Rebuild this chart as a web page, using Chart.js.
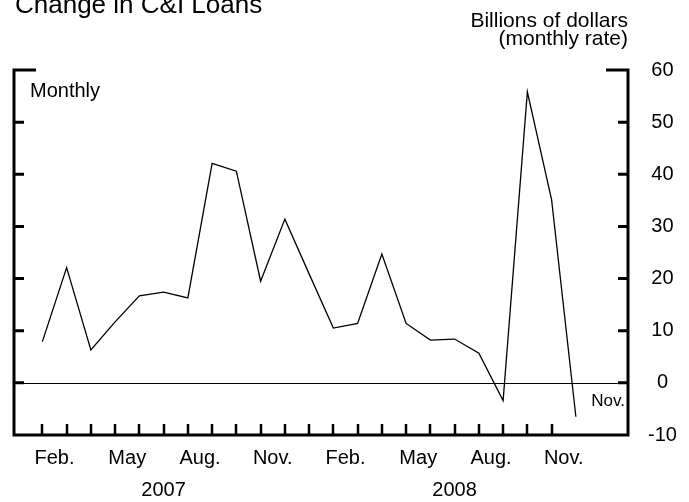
<!DOCTYPE html>
<html>
<head>
<meta charset="utf-8">
<script src="https://cdn.jsdelivr.net/npm/chart.js@4/dist/chart.umd.min.js"></script>
<style>
  html, body { margin: 0; padding: 0; background: #fff; }
  #wrap { width: 689px; height: 502px; }
</style>
</head>
<body>
<div id="wrap"><canvas id="c" width="689" height="502"></canvas></div>
<script>
// Monthly change in commercial & industrial loans, billions of dollars (monthly rate)
const months = [
  'Jan 2007', 'Feb 2007', 'Mar 2007', 'Apr 2007', 'May 2007', 'Jun 2007',
  'Jul 2007', 'Aug 2007', 'Sep 2007', 'Oct 2007', 'Nov 2007', 'Dec 2007',
  'Jan 2008', 'Feb 2008', 'Mar 2008', 'Apr 2008', 'May 2008', 'Jun 2008',
  'Jul 2008', 'Aug 2008', 'Sep 2008', 'Oct 2008', 'Nov 2008'
];
const changeCI = [
  7.9, 22.1, 6.3, 11.7, 16.7, 17.4, 16.3, 42.1, 40.6, 19.5, 31.4, 20.9,
  10.5, 11.4, 24.7, 11.4, 8.2, 8.4, 5.7, -3.4, 55.8, 35.1, -6.5
];

// Month labels sit between tick marks; year labels under the month row
const monthLabels = ['Feb.', 'May', 'Aug.', 'Nov.', 'Feb.', 'May', 'Aug.', 'Nov.'];
const monthLabelPos = [0.5, 3.5, 6.5, 9.5, 12.5, 15.5, 18.5, 21.5];
const yearLabels = ['2007', '2008'];
const yearLabelPos = [5, 17];
const yTickValues = [-10, 0, 10, 20, 30, 40, 50, 60];
const monthTickCount = 22; // tick marks Jan 2007 .. Oct 2008

const FONT = '"Liberation Sans", Arial, Helvetica, sans-serif';

const points = changeCI.map((v, i) => ({ x: i, y: v }));

// Frame, inward ticks, zero line and free-standing text
const framePlugin = {
  id: 'frame',
  beforeDatasetsDraw(chart) {
    const { ctx, chartArea: a, scales: { x, y } } = chart;
    ctx.save();
    ctx.strokeStyle = '#000';
    ctx.lineWidth = 1;
    const y0 = Math.round(y.getPixelForValue(0)) + 0.5;
    ctx.beginPath();
    ctx.moveTo(a.left, y0);
    ctx.lineTo(a.right, y0);
    ctx.stroke();
    ctx.restore();
  },
  afterDraw(chart) {
    const { ctx, chartArea: a, scales: { x, y } } = chart;
    const L = a.left, R = a.right, T = a.top, B = a.bottom;
    ctx.save();
    ctx.strokeStyle = '#000';
    ctx.lineCap = 'butt';
    ctx.lineWidth = 3;
    ctx.beginPath();
    // left and right spines with short top caps
    ctx.moveTo(L + 22, T); ctx.lineTo(L - 1.5, T);
    ctx.moveTo(L, T); ctx.lineTo(L, B);
    ctx.moveTo(R - 22, T); ctx.lineTo(R + 1.5, T);
    ctx.moveTo(R, T); ctx.lineTo(R, B);
    // bottom axis
    ctx.moveTo(L - 1.5, B); ctx.lineTo(R + 1.5, B);
    ctx.stroke();

    // inward y ticks
    ctx.beginPath();
    yTickValues.forEach(v => {
      if (v === -10 || v === 60) return;
      const py = y.getPixelForValue(v);
      ctx.moveTo(L, py); ctx.lineTo(L + 10, py);
      ctx.moveTo(R, py); ctx.lineTo(R - 10, py);
    });
    ctx.stroke();

    // monthly x ticks
    ctx.lineWidth = 2.5;
    ctx.beginPath();
    for (let i = 0; i < monthTickCount; i++) {
      const px = Math.round(x.getPixelForValue(i));
      ctx.moveTo(px, B); ctx.lineTo(px, B - 11);
    }
    ctx.stroke();

    // text
    ctx.fillStyle = '#000';
    ctx.textBaseline = 'alphabetic';
    ctx.font = '26px ' + FONT;
    ctx.textAlign = 'left';
    ctx.fillText('Change in C&I Loans', 15, 13);

    ctx.font = '21px ' + FONT;
    ctx.textAlign = 'right';
    ctx.fillText('Billions of dollars', 628, 27);
    ctx.fillText('(monthly rate)', 628, 45);

    ctx.font = '20px ' + FONT;
    ctx.textAlign = 'left';
    ctx.fillText('Monthly', 30, 97);

    ctx.font = '17px ' + FONT;
    ctx.textAlign = 'right';
    ctx.fillText('Nov.', 625, 406);
    ctx.restore();
  }
};

new Chart(document.getElementById('c'), {
  type: 'line',
  data: {
    labels: months,
    datasets: [{
      label: 'Change in C&I loans',
      data: points,
      borderColor: '#000',
      borderWidth: 1.3,
      pointRadius: 0,
      tension: 0,
      fill: false
    }]
  },
  options: {
    responsive: false,
    animation: false,
    devicePixelRatio: 1,
    layout: { padding: { top: 70, left: 14, right: 0, bottom: 0 } },
    plugins: { legend: { display: false }, title: { display: false }, tooltip: { enabled: false } },
    scales: {
      x: {
        type: 'linear',
        position: 'bottom',
        min: -1.17,
        max: 24.15,
        grid: { display: false, drawTicks: false },
        border: { display: false },
        afterBuildTicks: s => { s.ticks = monthLabelPos.map(v => ({ value: v })); },
        afterFit: s => { s.height = 36; },
        ticks: {
          autoSkip: false, maxRotation: 0, padding: 11,
          color: '#000', font: { family: FONT, size: 20 },
          callback: (v, i) => monthLabels[i]
        }
      },
      x2: {
        type: 'linear',
        position: 'bottom',
        min: -1.17,
        max: 24.15,
        grid: { display: false, drawTicks: false },
        border: { display: false },
        afterBuildTicks: s => { s.ticks = yearLabelPos.map(v => ({ value: v })); },
        afterFit: s => { s.height = 31; },
        ticks: {
          autoSkip: false, maxRotation: 0, padding: 7,
          color: '#000', font: { family: FONT, size: 20 },
          callback: (v, i) => yearLabels[i]
        }
      },
      y: {
        type: 'linear',
        position: 'right',
        min: -10,
        max: 60,
        grid: { display: false, drawTicks: false },
        border: { display: false },
        afterBuildTicks: s => { s.ticks = yTickValues.map(v => ({ value: v })); },
        afterFit: s => { s.width = 61; },
        ticks: {
          padding: 20, crossAlign: 'center',
          color: '#000', font: { family: FONT, size: 20 }
        }
      }
    }
  },
  plugins: [framePlugin]
});
</script>
</body>
</html>
